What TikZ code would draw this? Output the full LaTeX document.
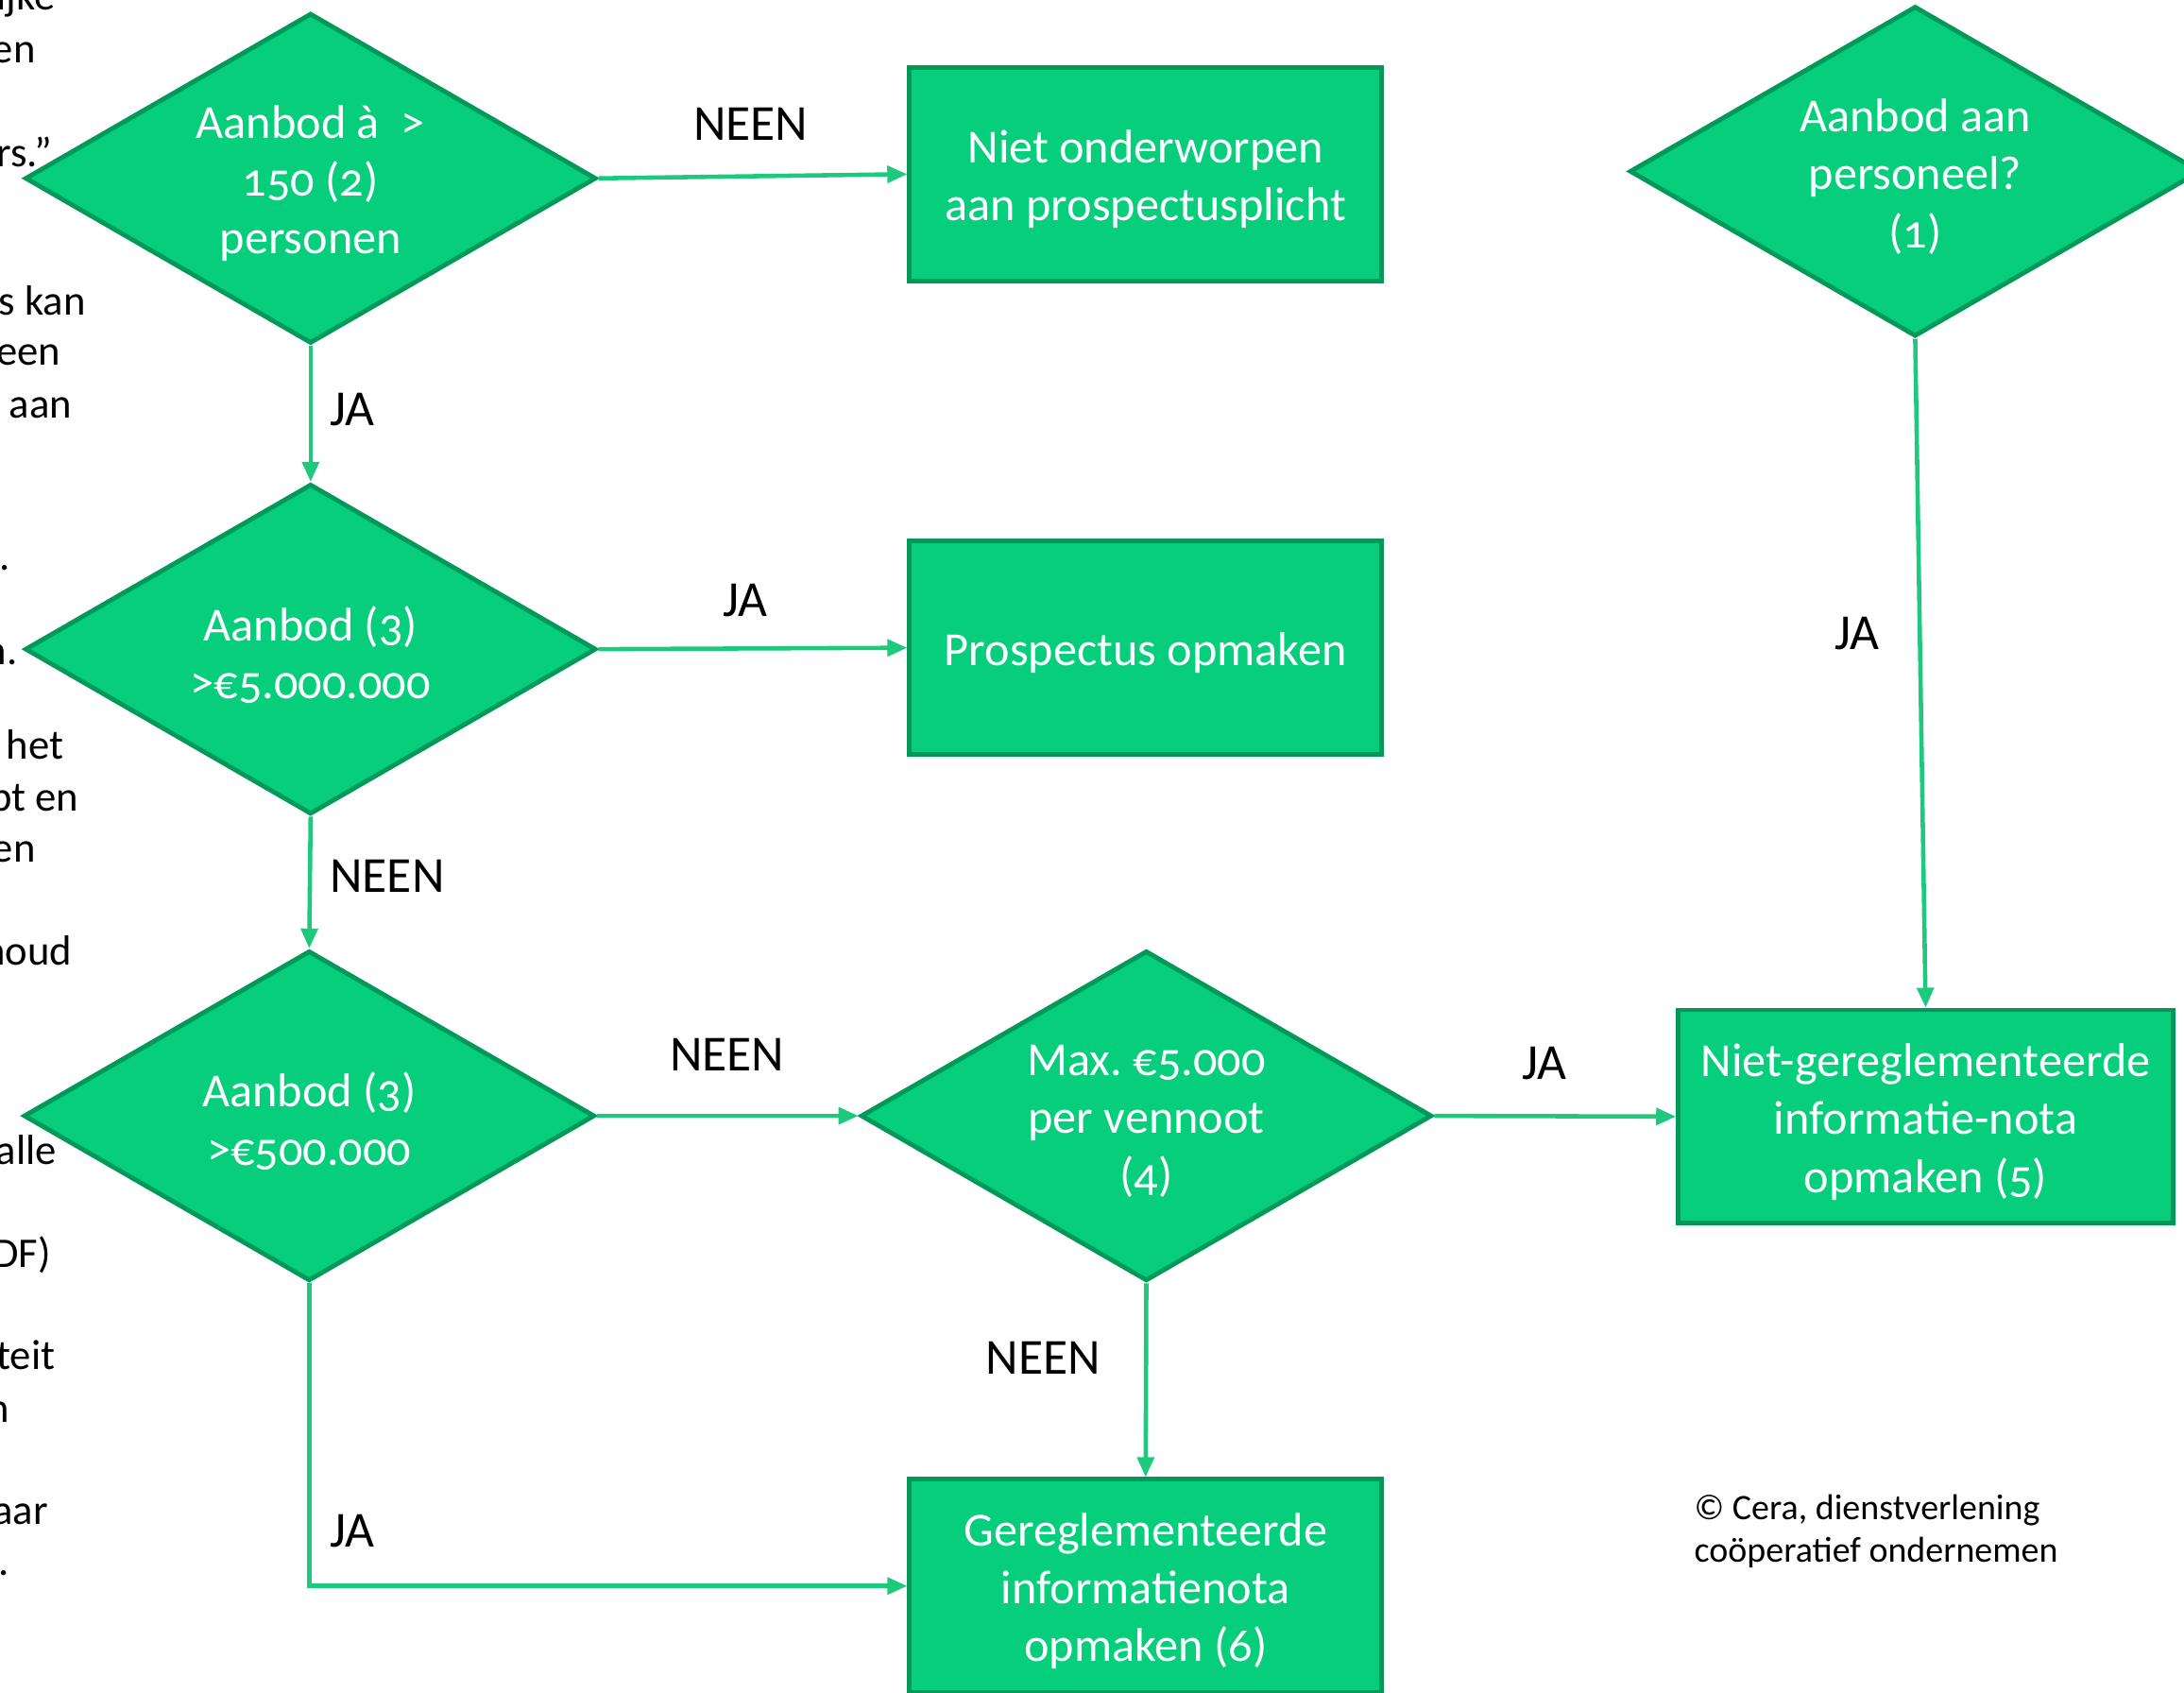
\documentclass[tikz,border=0pt]{standalone}
\usepackage{fontspec}
\setmainfont{Carlito}
\newfontfamily\numfont[Numbers=OldStyle]{Carlito}
\usetikzlibrary{shapes.geometric,arrows.meta}
\definecolor{boxfill}{HTML}{06CE7D}
\definecolor{boxline}{HTML}{00995A}
\definecolor{arrowgreen}{HTML}{1DC97C}
\begin{document}
\begin{tikzpicture}[x=0.014745cm,y=-0.014745cm,
  every node/.style={inner sep=0pt},
  dec/.style={shape=diamond, fill=boxfill, draw=boxline, line width=1.4pt,
    minimum width=410*0.014745cm, minimum height=237*0.014745cm, inner sep=0pt},
  dtext/.style={text=white, align=center, yshift=-1.6pt, font=\numfont\fontsize{14.3}{17.4}\selectfont},
  stepbox/.style={rectangle, fill=boxfill, draw=boxline, line width=1.4pt,
    minimum width=339*0.014745cm, minimum height=153*0.014745cm},
  lab/.style={font=\fontsize{15.2}{18}\selectfont, text=black},
  conn/.style={draw=arrowgreen, line width=1.3pt, -{Triangle[length=6pt,width=5pt]}},
  frag/.style={anchor=base east, font=\fontsize{12.7}{15.5}\selectfont, text=black}
]
\useasboundingbox (0,0) rectangle (1568,1215.3);
\clip (0,0) rectangle (1568,1215.3);

% left text fragments
\node[frag] (f1) at (40,7) {ijke};
\node[frag] (f2) at (26,45) {en};
\node[frag] (f3) at (38,120) {rs.”};
\node[frag] (f4) at (62,226) {s kan};
\node[frag] (f5) at (44,262) {een};
\node[frag] (f6) at (52,300) {t aan};
\node[frag] (f7) at (8,409) {n.};
\node[frag] (f8) at (13,477) {n.};
\node[frag] (f9) at (46,545) {het};
\node[frag] (f10) at (57,582) {pt en};
\node[frag] (f11) at (26,619) {en};
\node[frag] (f12) at (52,693) {houd};
\node[frag] (f13) at (41,836) {alle};
\node[frag] (f14) at (37,910) {DF)};
\node[frag] (f15) at (40,983) {teit};
\node[frag] (f16) at (7,1021) {n};
\node[frag] (f17) at (35,1094) {aar};
\node[frag] (f18) at (7,1131) {.};

% decisions
\node[dec, label={[dtext]center:{Aanbod à~ >\\150 (2)\\personen}}] (d1) at (223,128) {};
\node[dec, label={[dtext]center:{Aanbod (3)\\>€5.000.000}}] (d2) at (223,466) {};
\node[dec, label={[dtext]center:{Aanbod (3)\\>€500.000}}] (d3) at (222,801) {};
\node[dec, label={[dtext]center:{Max.\ €5.000\\per vennoot\\(4)}}] (d4) at (823,801) {};
\node[dec, label={[dtext]center:{Aanbod aan\\personeel?\\(1)}}] (d5) at (1375,123) {};

% boxes
\node[stepbox, label={[dtext]center:{Niet onderworpen\\aan prospectusplicht}}] (b1) at (822.5,125) {};
\node[stepbox, label={[dtext]center:{Prospectus opmaken}}] (b2) at (822.5,465) {};
\node[stepbox, minimum width=355*0.014745cm, label={[dtext]center:{Niet-gereglementeerde\\informatie-nota\\opmaken (5)}}] (b4) at (1382.5,801.5) {};
\node[stepbox, label={[dtext]center:{Gereglementeerde\\informatienota\\opmaken (6)}}] (b6) at (822.5,1138.5) {};

% connectors
\draw[conn] (d1.east) -- (b1.west);
\draw[conn] (d1.south) -- (d2.north);
\draw[conn] (d2.east) -- (b2.west);
\draw[conn] (d2.south) -- (d3.north);
\draw[conn] (d3.east) -- (d4.west);
\draw[conn] (d4.east) -- (b4.west);
\draw[conn] (d5.south) -- (b4.north);
\draw[conn] (d3.south) |- (b6.west);
\draw[conn] (d4.south) -- (b6.north);

% labels
\node[lab] (l1) at (539,89) {NEEN};
\node[lab] (l2) at (253,294) {JA};
\node[lab] (l3) at (535,431) {JA};
\node[lab] (l4) at (278,629) {NEEN};
\node[lab] (l5) at (522,757) {NEEN};
\node[lab] (l6) at (1109,763) {JA};
\node[lab] (l7) at (1333,455) {JA};
\node[lab] (l8) at (253,1099) {JA};
\node[lab] (l9) at (749,975) {NEEN};

% copyright
\node[anchor=west, align=left, font=\fontsize{10.8}{12.8}\selectfont] (copy) at (1216,1099) {© Cera, dienstverlening\\coöperatief ondernemen};
\end{tikzpicture}
\end{document}
